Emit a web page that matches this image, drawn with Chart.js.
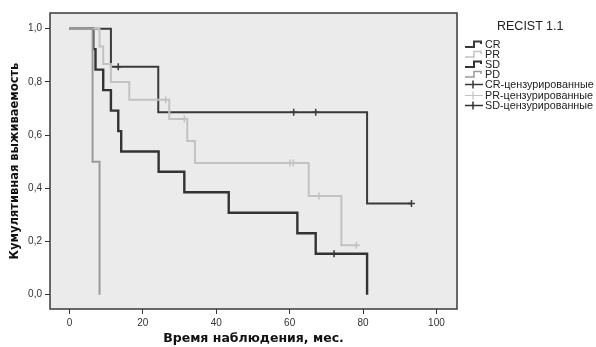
<!DOCTYPE html>
<html><head><meta charset="utf-8">
<script src="https://cdn.jsdelivr.net/npm/chart.js@4"></script>
<style>
html,body{margin:0;padding:0;background:#fff;}
#wrap{position:relative;width:596px;height:347px;}
#legend{position:absolute;left:464px;top:18px;font-family:"Liberation Sans",Arial,sans-serif;color:#222;}
#legend .t{font-size:12.5px;position:absolute;left:33px;top:1px;white-space:nowrap;}
#legend .row{position:absolute;left:0;height:10px;white-space:nowrap;font-size:10.8px;line-height:10px;}
#legend svg{vertical-align:top;margin-right:1px;}
</style></head>
<body><div id="wrap"><canvas id="c" width="596" height="347"></canvas><div id="legend"></div></div>
<script>
// Kaplan-Meier data (time in months, cumulative survival)
const crTimes = [0, 11.3, 24.2, 81.1, 93.2];
const crSurv  = [1, 0.857, 0.686, 0.343, 0.343];
const crCensTimes = [13.3, 61.1, 67.1, 93.2];
const crCensSurv  = [0.857, 0.686, 0.686, 0.343];

const prTimes = [0, 8.2, 9.2, 11.3, 16.3, 27.2, 32.1, 34.2, 65.2, 74.1, 78.2];
const prSurv  = [1, 0.933, 0.867, 0.8, 0.733, 0.66, 0.578, 0.495, 0.371, 0.186, 0.186];
const prCensTimes = [26.2, 31.3, 60.1, 61.0, 68.0, 78.2];
const prCensSurv  = [0.733, 0.66, 0.495, 0.495, 0.371, 0.186];

const sdTimes = [0, 6.5, 7.1, 9.2, 11.3, 13.3, 14.1, 24.3, 31.3, 43.4, 62.1, 67.1, 81.1];
const sdSurv  = [1, 0.923, 0.846, 0.769, 0.692, 0.615, 0.538, 0.462, 0.385, 0.308, 0.231, 0.154, 0];
const sdCensTimes = [72.1];
const sdCensSurv  = [0.154];

const pdTimes = [0, 6.3, 8.2];
const pdSurv  = [1, 0.5, 0];

const xTicks = [0, 20, 40, 60, 80, 100];
const yTicks = [0, 0.2, 0.4, 0.6, 0.8, 1.0];

const colCR = '#3a3a3a', colPR = '#c2c2c2', colSD = '#333333', colPD = '#9a9a9a';

function pts(t, s){ return t.map((v,i)=>({x:v, y:s[i]})); }
function lineDs(label, t, s, col, w, order){
  return {label, data: pts(t,s), borderColor: col, borderWidth: w, stepped: true,
    pointRadius: 0, fill: false, showLine: true, order};
}
function censDs(label, t, s, col, order){
  return {label, data: pts(t,s), borderColor: col, backgroundColor: col, showLine: false,
    pointStyle: 'cross', pointRadius: 3.5, borderWidth: 1.5, order};
}

const bgPlugin = {
  id: 'bg',
  beforeDraw(chart){
    const {ctx, chartArea: a} = chart;
    ctx.save(); ctx.fillStyle = '#ebebeb';
    ctx.fillRect(a.left, a.top, a.right - a.left, a.bottom - a.top);
    ctx.restore();
  },
  afterDraw(chart){
    const {ctx, chartArea: a} = chart;
    ctx.save(); ctx.strokeStyle = '#3a3a3a'; ctx.lineWidth = 1.5;
    ctx.strokeRect(a.left, a.top, a.right - a.left, a.bottom - a.top);
    ctx.restore();
  }
};

new Chart(document.getElementById('c'), {
  type: 'scatter',
  data: { datasets: [
    censDs('CR-цензурированные', crCensTimes, crCensSurv, colCR, 1),
    censDs('PR-цензурированные', prCensTimes, prCensSurv, colPR, 2),
    censDs('SD-цензурированные', sdCensTimes, sdCensSurv, colSD, 3),
    lineDs('PD', pdTimes, pdSurv, colPD, 2, 4),
    lineDs('PR', prTimes, prSurv, colPR, 2, 5),
    lineDs('SD', sdTimes, sdSurv, colSD, 2.4, 6),
    lineDs('CR', crTimes, crSurv, colCR, 2, 7)
  ]},
  options: {
    responsive: false, animation: false,
    layout: { padding: { left: 0, right: 139, top: 13, bottom: 0 } },
    plugins: { legend: { display: false }, tooltip: { enabled: false } },
    scales: {
      x: {
        type: 'linear', min: -5.3, max: 105.6,
        afterFit(s){ s.height = 38; },
        afterBuildTicks(s){ s.ticks = xTicks.map(v=>({value:v})); },
        border: { display: false },
        grid: { display: true, drawOnChartArea: false, drawTicks: true, tickLength: 5, color: '#333', lineWidth: 1 },
        ticks: { padding: 3, color: '#333', font: { family: '"Liberation Sans", Arial', size: 10 }, maxRotation: 0 },
        title: { display: true, text: 'Время наблюдения, мес.', color: '#111',
          font: { family: '"DejaVu Sans", sans-serif', size: 12.5, weight: 'bold' }, padding: { top: 2, bottom: 1 } }
      },
      y: {
        type: 'linear', min: -0.054, max: 1.059,
        afterFit(s){ s.width = 50; },
        afterBuildTicks(s){ s.ticks = yTicks.map(v=>({value:v})); },
        border: { display: false },
        grid: { display: true, drawOnChartArea: false, drawTicks: true, tickLength: 5, color: '#333', lineWidth: 1 },
        ticks: { padding: 3, color: '#333', font: { family: '"Liberation Sans", Arial', size: 10 },
          callback: v => v.toFixed(1).replace('.', ',') },
        title: { display: true, text: 'Кумулятивная выживаемость', color: '#111',
          font: { family: '"DejaVu Sans", sans-serif', size: 11.5, weight: 'bold' }, padding: { top: 8, bottom: 0 } }
      }
    }
  },
  plugins: [bgPlugin]
});

// HTML legend
const legendItems = [
  ['CR', colCR, 'step', 2], ['PR', colPR, 'step', 1.5], ['SD', colSD, 'step', 2], ['PD', colPD, 'step', 1.5],
  ['CR-цензурированные', colCR, 'cens', 1.5], ['PR-цензурированные', colPR, 'cens', 1.2], ['SD-цензурированные', colSD, 'cens', 1.5]
];
const lg = document.getElementById('legend');
lg.innerHTML = '<div class="t">RECIST 1.1</div>';
legendItems.forEach((it, i) => {
  const [name, col, kind, w] = it;
  const path = kind === 'step'
    ? `<path d="M1 8 H10 V2.5 H17 V5" fill="none" stroke="${col}" stroke-width="${w}"/>`
    : `<path d="M1 5.5 H19 M9 1.5 V9.5" fill="none" stroke="${col}" stroke-width="${w}"/>`;
  const wid = 20;
  const d = document.createElement('div');
  d.className = 'row';
  d.style.top = (20.5 + i * 10.2) + 'px';
  d.innerHTML = `<svg width="${wid}" height="10">${path}</svg><span>${name}</span>`;
  lg.appendChild(d);
});
</script>
</body></html>
